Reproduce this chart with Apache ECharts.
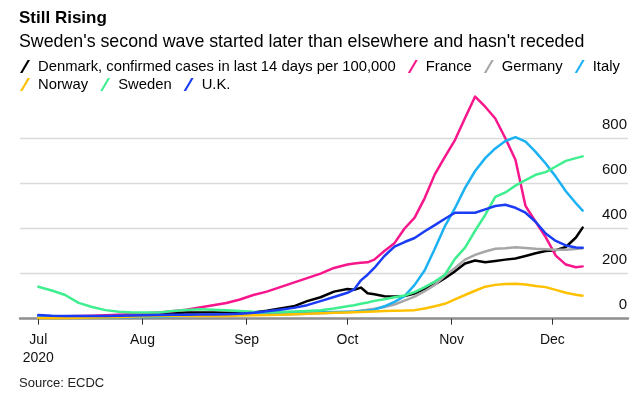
<!DOCTYPE html>
<html>
<head>
<meta charset="utf-8">
<script src="https://cdn.jsdelivr.net/npm/echarts@6/dist/echarts.min.js"></script>
<style>
html,body{margin:0;padding:0;background:#fff;}
#chart{width:637px;height:396px;}
</style>
</head>
<body>
<div id="chart"></div>
<script>
const dates = ['2020-07-01','2020-07-05','2020-07-09','2020-07-13','2020-07-17','2020-07-21','2020-07-25','2020-07-29',
  '2020-08-02','2020-08-06','2020-08-10','2020-08-14','2020-08-18','2020-08-22','2020-08-26','2020-08-30',
  '2020-09-03','2020-09-07','2020-09-11','2020-09-15','2020-09-19','2020-09-23','2020-09-27','2020-10-01',
  '2020-10-03','2020-10-05','2020-10-07','2020-10-09','2020-10-12','2020-10-15','2020-10-18','2020-10-21',
  '2020-10-24','2020-10-27','2020-10-30','2020-11-02','2020-11-05','2020-11-08','2020-11-11','2020-11-14',
  '2020-11-17','2020-11-20','2020-11-23','2020-11-26','2020-11-29','2020-12-02','2020-12-05','2020-12-08','2020-12-10'];

const denmark = [8,7,6,6,7,9,12,14,18,22,25,27,28,27,26,25,28,35,45,55,78,95,120,132,128,138,113,108,100,98,101,112,132,152,180,210,245,258,250,256,262,267,278,290,300,304,318,360,404];
const france  = [10,10,11,12,13,15,17,20,24,28,33,40,50,60,70,85,105,120,140,160,180,200,225,240,245,248,250,262,300,335,400,448,535,640,718,792,890,985,940,888,800,705,500,430,362,280,240,228,232];
const germany = [5,5,5,5,6,6,7,8,9,10,12,14,16,17,17,17,17,18,19,20,22,24,26,30,32,35,40,44,52,63,80,98,122,150,190,225,262,283,298,310,312,317,314,310,308,306,306,309,312];
const italy   = [6,5,5,5,5,5,6,7,8,9,11,13,15,17,19,21,23,25,26,27,28,29,30,31,32,34,36,40,55,75,100,150,215,310,410,490,580,655,712,755,788,805,785,740,688,630,565,512,479];
const norway  = [3,3,3,4,5,6,8,10,11,12,13,13,12,12,12,14,15,16,18,20,22,24,26,28,29,30,31,32,34,35,36,38,45,55,66,86,105,124,142,150,154,155,152,145,140,128,115,106,102];
const sweden  = [142,125,105,70,52,38,31,28,28,28,34,39,42,40,37,34,31,30,30,32,34,37,45,55,60,66,72,79,86,95,103,118,140,165,195,265,315,390,460,540,560,590,615,638,650,675,700,712,720];
const uk      = [16,13,12,12,12,12,13,14,15,16,17,18,19,19,20,22,26,33,40,48,60,78,96,115,130,170,195,225,278,320,340,358,388,415,443,470,470,470,485,500,505,492,470,430,378,345,325,316,315];

const seriesNames = ['Denmark','France','Germany','Italy','Norway','Sweden','U.K.'];
const seriesColors = ['#000000','#f7168b','#a6a6a6','#1bb1f2','#ffc000','#3fef8f','#1a3cf5'];
const seriesValues = [denmark, france, germany, italy, norway, sweden, uk];

const tickDates = ['2020-07-01','2020-08-01','2020-09-01','2020-10-01','2020-11-01','2020-12-01'];
const tickLabels = ['Jul\n2020','Aug','Sep','Oct','Nov','Dec'];
const yTicks = [0,200,400,600,800];

const DAY = 86400000;
const origin = Date.parse(tickDates[0]);
const toDay = d => Math.round((Date.parse(d) - origin) / DAY);
const tickDays = tickDates.map(toDay);
const dayValues = dates.map(toDay);
const font = "'Liberation Sans', Arial, sans-serif";

const chart = echarts.init(document.getElementById('chart'), null, {renderer: 'canvas'});
chart.setOption({
  backgroundColor: '#ffffff',
  animation: false,
  textStyle: {fontFamily: font},
  title: [
    {
      text: 'Still Rising',
      subtext: "Sweden's second wave started later than elsewhere and hasn't receded",
      left: 19, top: 8, itemGap: 4, padding: 0,
      textStyle: {fontFamily: font, fontSize: 17, fontWeight: 'bold', color: '#000', lineHeight: 20},
      subtextStyle: {fontFamily: font, fontSize: 17.8, color: '#000', lineHeight: 20}
    },
    {
      text: 'Source: ECDC',
      left: 19, top: 375, padding: 0,
      textStyle: {fontFamily: font, fontSize: 13, fontWeight: 'normal', color: '#222', lineHeight: 16}
    }
  ],
  legend: {
    left: 20, top: 59, width: 615, padding: 0,
    itemGap: 3, itemWidth: 10, itemHeight: 13,
    icon: 'path://M0,13 L7.6,0 L10,0 L2.4,13 Z',
    textStyle: {fontFamily: font, fontSize: 14.8, color: '#000', lineHeight: 15, padding: [0, 9, 0, 3]},
    formatter: function (name) {
      return name === 'Denmark' ? 'Denmark, confirmed cases in last 14 days per 100,000' : name;
    },
    data: seriesNames
  },
  grid: {left: 20, right: 9, top: 93.2, bottom: 77.3, containLabel: false},
  xAxis: {
    type: 'value',
    min: -5.45,
    max: 175.5,
    axisLine: {show: true, onZero: false, lineStyle: {color: '#8f8f8f', width: 2.5}},
    axisTick: {show: true, customValues: tickDays, length: 6, lineStyle: {color: '#333', width: 1}},
    axisLabel: {
      customValues: tickDays,
      margin: 12,
      fontFamily: font, fontSize: 14, lineHeight: 18, color: '#111',
      align: 'center',
      formatter: function (v) {
        const i = tickDays.indexOf(Math.round(v));
        return i >= 0 ? tickLabels[i] : '';
      }
    },
    splitLine: {show: false}
  },
  yAxis: {
    type: 'value',
    position: 'right',
    min: 0, max: 1000, interval: 200,
    axisLine: {show: false},
    axisTick: {show: false},
    axisLabel: {
      inside: true, margin: 1,
      fontFamily: font, fontSize: 15, color: '#111',
      verticalAlign: 'bottom', lineHeight: 15, padding: [0, 0, 6, 0],
      showMaxLabel: false,
      formatter: function (v) { return yTicks.indexOf(v) >= 0 ? String(v) : ''; }
    },
    splitLine: {show: true, showMaxLine: false, lineStyle: {color: '#dadada', width: 1.3}}
  },
  series: seriesNames.map((name, k) => ({
    name: name,
    type: 'line',
    color: seriesColors[k],
    showSymbol: false,
    symbol: 'none',
    lineStyle: {width: 2.5, color: seriesColors[k], join: 'round', cap: 'round'},
    data: dayValues.map((d, i) => [d, seriesValues[k][i]])
  }))
});
</script>
</body>
</html>
